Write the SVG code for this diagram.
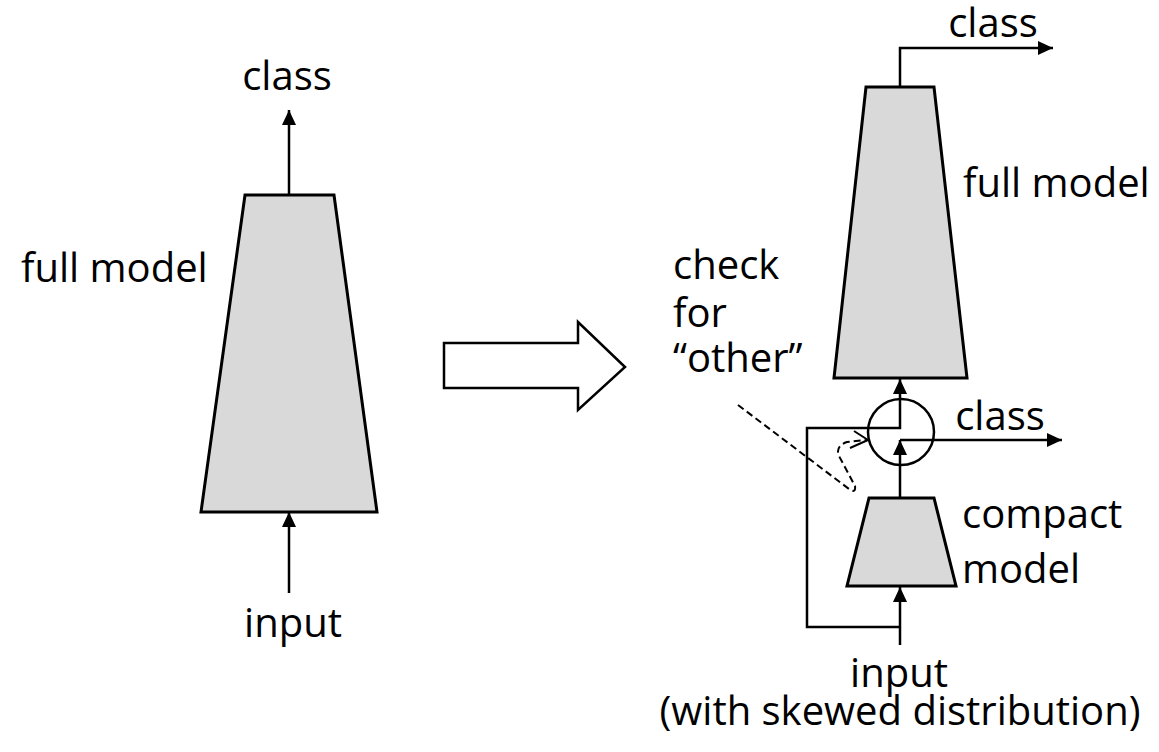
<svg xmlns="http://www.w3.org/2000/svg" width="1159" height="752" viewBox="0 0 1159 752">
  <style>
    .label { font-family: "Open Sans", "Liberation Sans", sans-serif; font-size: 40px; fill: #000; }
    .model { fill: #d9d9d9; stroke: #000; stroke-width: 3; stroke-linejoin: miter; }
    .wire { fill: none; stroke: #000; stroke-width: 2.5; }
    .dash { fill: none; stroke: #000; stroke-width: 2; stroke-dasharray: 7 4; }
  </style>
  <defs>
    <marker id="arr" viewBox="0 0 15 14" refX="15" refY="7" markerWidth="15" markerHeight="14" orient="auto" markerUnits="userSpaceOnUse">
      <path d="M0,0 L15,7 L0,14 Z" fill="#000"/>
    </marker>
  </defs>

  <rect width="1159" height="752" fill="#fff"/>

  <!-- left: single full model -->
  <g id="left-full-model">
    <polygon class="model" points="245,195 334,195 377,512 201,512"/>
    <text class="label" x="21" y="282">full model</text>
  </g>
  <g id="left-class">
    <text class="label" x="287" y="90" text-anchor="middle">class</text>
  </g>
  <g id="left-input">
    <text class="label" x="293" y="637" text-anchor="middle">input</text>
  </g>

  <!-- transition arrow -->
  <g id="transform-arrow">
    <polygon points="444,343 578,343 578,322 625,367 578,410 578,388 444,388" fill="#fff" stroke="#000" stroke-width="2.5" stroke-linejoin="miter"/>
  </g>

  <!-- right: cascaded models -->
  <g id="right-full-model">
    <polygon class="model" points="866,87 934,87 967,378 834,378"/>
    <text class="label" x="963" y="197">full model</text>
  </g>
  <g id="right-full-class">
    <text class="label" x="993" y="37" text-anchor="middle">class</text>
  </g>
  <g id="selector">
    <circle cx="901" cy="432" r="33" fill="none" stroke="#000" stroke-width="2.5"/>
  </g>
  <g id="check-label">
    <text class="label" x="673" y="279">check</text>
    <text class="label" x="673" y="327">for</text>
    <text class="label" x="673" y="372">“other”</text>
  </g>
  <g id="compact-model">
    <polygon class="model" points="869,498 934,498 956,586 847,586"/>
    <text class="label" x="962" y="528">compact</text>
    <text class="label" x="962" y="583">model</text>
  </g>
  <g id="compact-class">
    <text class="label" x="1000" y="430" text-anchor="middle">class</text>
  </g>
  <g id="right-input">
    <text class="label" x="899" y="687" text-anchor="middle">input</text>
    <text class="label" x="900" y="725" text-anchor="middle">(with skewed distribution)</text>
  </g>

  <!-- connectors -->
  <g id="connectors">
    <!-- left column -->
    <line class="wire" x1="289" y1="195" x2="289" y2="110" marker-end="url(#arr)"/>
    <line class="wire" x1="289" y1="593" x2="289" y2="512" marker-end="url(#arr)"/>

    <!-- full model output -->
    <polyline class="wire" points="900,87 900,48 1053,48" marker-end="url(#arr)"/>

    <!-- input into compact model, with bypass branch -->
    <line class="wire" x1="900" y1="645" x2="900" y2="587" marker-end="url(#arr)"/>
    <polyline class="wire" points="900,627 807,627 807,428 900,428 900,379" marker-end="url(#arr)"/>

    <!-- compact model output -->
    <line class="wire" x1="900" y1="497" x2="900" y2="440" marker-end="url(#arr)"/>
    <line class="wire" x1="900" y1="440" x2="1062" y2="440" marker-end="url(#arr)"/>

    <!-- annotation pointer -->
    <path class="dash" d="M738,405 L849,489 Q856,494 855,486 L839,456 Q835,446 847,442 L866,440"/>
    <polyline fill="none" stroke="#000" stroke-width="2" points="854,431 868,440 850,448"/>
  </g>
</svg>
